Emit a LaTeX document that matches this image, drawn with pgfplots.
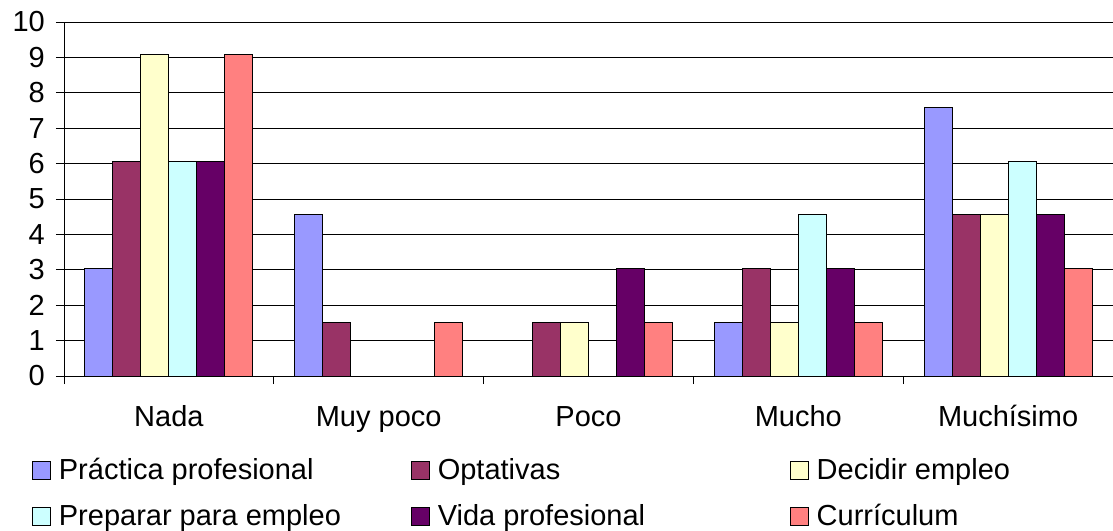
\documentclass[border=0pt]{standalone}
\usepackage{pgfplots}
\pgfplotsset{compat=1.18}
\usepackage{fontspec}
\setmainfont{Liberation Sans}
\definecolor{c1}{HTML}{9999FF}
\definecolor{c2}{HTML}{993366}
\definecolor{c3}{HTML}{FFFFCC}
\definecolor{c4}{HTML}{CCFFFF}
\definecolor{c5}{HTML}{660066}
\definecolor{c6}{HTML}{FF8080}
\newcommand{\lt}[2][352bp]{\makebox[#1][l]{\rule[-15.5bp]{0pt}{45.5bp}#2}}
\begin{document}
\fontsize{29bp}{34bp}\selectfont
\begin{tikzpicture}
\useasboundingbox (0,0) rectangle (1113bp,531bp);
\begin{axis}[
  at={(64bp,155bp)}, anchor=south west,
  scale only axis, width=1049bp, height=354bp,
  ybar=0pt, bar width=28bp,
  xmin=-0.5, xmax=4.5, ymin=0, ymax=10,
  axis x line*=bottom, axis y line*=left,
  axis line style={black, line width=0.9bp},
  ytick={0,1,...,10},
  ymajorgrids, grid style={black, line width=0.9bp},
  tick align=outside, major tick length=8bp,
  tick style={black, line width=0.9bp},
  xtick={-0.5,0.5,...,4.5}, xticklabels={},
  extra x ticks={0,1,2,3,4},
  extra x tick labels={Nada,Muy poco,Poco,Mucho,Muchísimo},
  extra x tick style={major tick length=0pt, xticklabel style={anchor=base, inner sep=0pt, yshift=-50.7bp}},
  yticklabel style={anchor=east, inner sep=0pt, xshift=-11bp},
  /pgf/number format/assume math mode=true,
  ticklabel style={font=\fontsize{29bp}{34bp}\selectfont},
  legend columns=3,
  legend style={draw=none, fill=none, inner sep=0pt, outer sep=0pt,
    at={(axis description cs:-0.0305,-0.209)}, anchor=north west,
    row sep=11.5bp,
    nodes={inner sep=0pt, outer sep=0pt, font=\fontsize{29bp}{34bp}\selectfont},
    /tikz/every odd column/.style={column sep=8bp},
    /tikz/every even column/.style={column sep=0pt}},
  legend image code/.code={\draw[#1, draw=black, line width=0.9bp] (0bp,-12bp) rectangle (18bp,6bp);},
  every axis plot/.append style={draw=black, line width=0.9bp},
]
\addplot[fill=c1] coordinates {(0,3.03) (1,4.55) (3,1.52) (4,7.58)};
\addplot[fill=c2] coordinates {(0,6.06) (1,1.52) (2,1.52) (3,3.03) (4,4.55)};
\addplot[fill=c3] coordinates {(0,9.09) (2,1.52) (3,1.52) (4,4.55)};
\addplot[fill=c4] coordinates {(0,6.06) (3,4.55) (4,6.06)};
\addplot[fill=c5] coordinates {(0,6.06) (2,3.03) (3,3.03) (4,4.55)};
\addplot[fill=c6] coordinates {(0,9.09) (1,1.52) (2,1.52) (3,1.52) (4,3.03)};
\addlegendentry{\lt{Práctica profesional}}
\addlegendentry{\lt{Optativas}}
\addlegendentry{\lt[280bp]{Decidir empleo}}
\addlegendentry{\lt{Preparar para empleo}}
\addlegendentry{\lt{Vida profesional}}
\addlegendentry{\lt[280bp]{Currículum}}
\end{axis}
\end{tikzpicture}
\end{document}
